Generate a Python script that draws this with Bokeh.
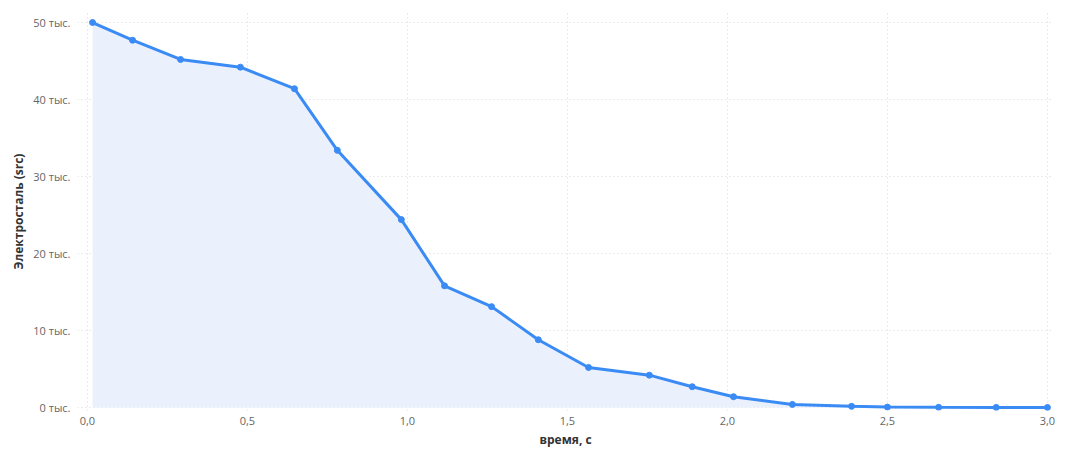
from bokeh.plotting import figure
from bokeh.models import FixedTicker, CustomJSTickFormatter, Range1d, ColumnDataSource
from bokeh.embed import file_html
from bokeh.resources import INLINE

time_s = [0.016, 0.141, 0.291, 0.478, 0.647, 0.781, 0.981, 1.116, 1.263, 1.409,
          1.566, 1.756, 1.890, 2.019, 2.203, 2.388, 2.500, 2.660, 2.840, 3.000]
values = [50000, 47700, 45200, 44200, 41400, 33400, 24400, 15800, 13100, 8800,
          5200, 4200, 2700, 1400, 400, 150, 50, 20, 10, 0]
x_ticks = [0.0, 0.5, 1.0, 1.5, 2.0, 2.5, 3.0]
y_ticks = [0, 10000, 20000, 30000, 40000, 50000]

src = ColumnDataSource(dict(x=time_s, y=values, base=[0] * len(values)))

p = figure(frame_width=976, frame_height=398, output_backend="svg", toolbar_location=None,
           x_range=Range1d(-0.031, 3.019), y_range=Range1d(-390, 51300),
           min_border_left=77, min_border_right=6, min_border_top=12, min_border_bottom=40)
p.outline_line_color = None
p.background_fill_color = "white"

p.varea(x="x", y1="base", y2="y", source=src, fill_color="#eaf1fd", fill_alpha=1.0)
p.line(x="x", y="y", source=src, line_color="#3b8bf5", line_width=3)
p.scatter(x="x", y="y", source=src, size=6, fill_color="#3b8bf5", line_color="#3b8bf5")

p.xaxis.ticker = FixedTicker(ticks=x_ticks)
p.yaxis.ticker = FixedTicker(ticks=y_ticks)
p.xaxis.formatter = CustomJSTickFormatter(code='return tick.toFixed(1).replace(".", ",");')
p.yaxis.formatter = CustomJSTickFormatter(code='return (tick/1000).toFixed(0) + " тыс.";')

for ax in (p.xaxis, p.yaxis):
    ax.axis_line_color = None
    ax.major_tick_line_color = None
    ax.minor_tick_line_color = None
    ax.major_label_text_font = "Open Sans"
    ax.major_label_text_font_size = "11px"
    ax.major_label_text_color = "#666666"
    ax.axis_label_text_font = "Open Sans"
    ax.axis_label_text_font_size = "12px"
    ax.axis_label_text_font_style = "bold"
    ax.axis_label_text_color = "#333333"

p.xaxis.axis_label = "время, с"
p.yaxis.axis_label = "Электросталь (src)"
p.xaxis.major_label_standoff = 0
p.yaxis.major_label_standoff = 1
p.xaxis.axis_label_standoff = 3
p.yaxis.axis_label_standoff = 3

for g in (p.xgrid, p.ygrid):
    g.grid_line_color = "#d9d9d9"
    g.grid_line_dash = "1 3"
    g.grid_line_width = 1

open("out.html", "w").write(file_html(p, INLINE))
